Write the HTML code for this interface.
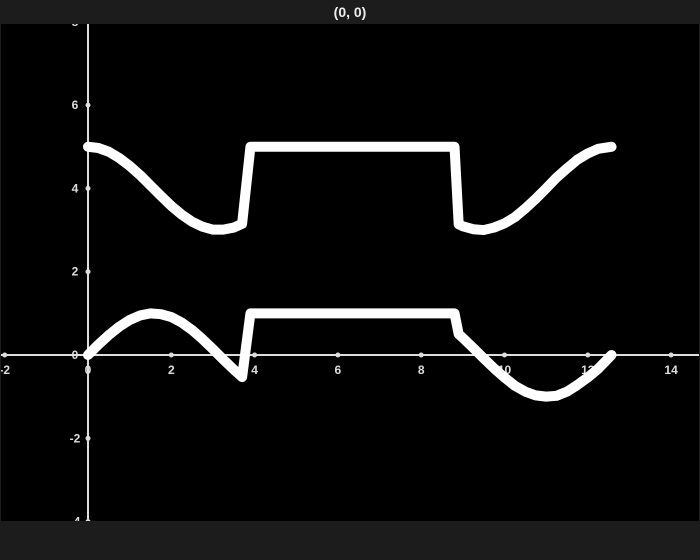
<!DOCTYPE html>
<html><head><meta charset="utf-8"><style>
html,body{margin:0;padding:0;background:#1c1c1c;width:700px;height:560px;overflow:hidden}
svg{display:block}
text{font-family:"Liberation Sans",sans-serif;fill:#ddd}
</style></head><body>
<svg id="chart" width="700" height="560">
<rect x="0" y="0" width="700" height="560" fill="#1c1c1c"/>
<text x="350" y="17" text-anchor="middle" font-size="14" font-weight="bold" style="fill:#eee">(0, 0)</text>
<svg x="1" y="24" width="698" height="497" overflow="hidden">
<rect x="0" y="0" width="698" height="497" fill="#000"/>
<g id="g" transform="translate(-1,-24)"></g>
</svg>
</svg>
<script>
const xTicks=[-2,0,2,4,6,8,10,12,14];
const yTicks=[-4,-2,2,4,6,8];
const upperX=[0,0.25,0.5,0.75,1,1.25,1.5,1.75,2,2.25,2.5,2.75,3,3.25,3.5,3.7,3.9,8.8,8.9,9.0,9.25,9.5,9.75,10,10.25,10.5,10.75,11,11.25,11.5,11.75,12,12.25,12.57];
const upperY=[5,4.97,4.88,4.73,4.54,4.32,4.07,3.82,3.58,3.37,3.2,3.08,3.01,3.01,3.06,3.15,5,5,3.14,3.09,3.02,3.0,3.06,3.16,3.31,3.52,3.75,4.0,4.26,4.48,4.69,4.84,4.95,5];
const lowerX=[0,0.25,0.5,0.75,1,1.25,1.5,1.75,2,2.25,2.5,2.75,3,3.25,3.5,3.7,3.9,8.8,8.9,9.0,9.25,9.5,9.75,10,10.25,10.5,10.75,11,11.25,11.5,11.75,12,12.25,12.57];
const lowerY=[0,0.25,0.48,0.68,0.84,0.95,1.0,0.98,0.91,0.78,0.6,0.38,0.14,-0.11,-0.35,-0.53,1,1,0.5,0.41,0.17,-0.08,-0.32,-0.54,-0.74,-0.88,-0.97,-1.0,-0.98,-0.88,-0.72,-0.54,-0.33,0];
const X0=88,Y0=355,S=41.65;
const sx=v=>X0+v*S, sy=v=>Y0-v*S;
const g=document.getElementById('g');
const NS='http://www.w3.org/2000/svg';
function mk(t,a){const e=document.createElementNS(NS,t);for(const k in a)e.setAttribute(k,a[k]);g.appendChild(e);return e;}
let ax=mk('line',{x1:0,x2:700,y1:Y0,y2:Y0,stroke:'#ddd','stroke-width':2});


let ay=mk('line',{x1:X0,x2:X0,y1:0,y2:560,stroke:'#ddd','stroke-width':2});


xTicks.forEach(v=>{
 const d=mk('circle',{cx:sx(v),cy:Y0,r:2.5,fill:'#ddd'});
 
 
 const t=mk('text',{x:sx(v),y:Y0+19,'text-anchor':'middle','font-size':12,'font-weight':'bold'});
 t.textContent=v;
 
 
});
const z=mk('text',{x:X0-13,y:Y0+4,'text-anchor':'middle','font-size':12,'font-weight':'bold'});
z.textContent='0';


yTicks.forEach(v=>{
 const d=mk('circle',{cx:X0,cy:sy(v),r:2.5,fill:'#ddd'});
 
 
 const t=mk('text',{x:X0-13,y:sy(v)+4,'text-anchor':'middle','font-size':12,'font-weight':'bold'});
 t.textContent=v;
 
 
});
function line(xs,ys,name){
 const p=mk('polyline',{points:xs.map((x,i)=>sx(x)+','+sy(ys[i])).join(' '),fill:'none',stroke:'#fff','stroke-width':10,'stroke-linecap':'round','stroke-linejoin':'round'});
 
 
}
line(upperX,upperY,'upper-curve');
line(lowerX,lowerY,'lower-curve');
</script>
</body></html>
